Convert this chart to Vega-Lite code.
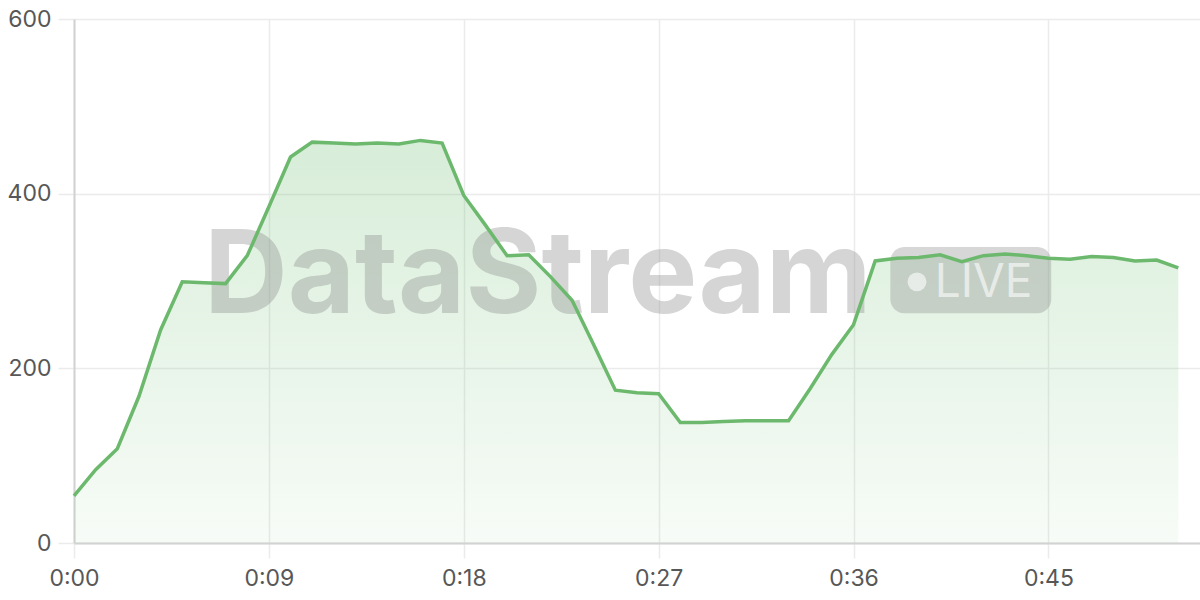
{
  "$schema": "https://vega.github.io/schema/vega-lite/v6.json",
  "width": 1126,
  "height": 524,
  "autosize": "none",
  "padding": {"left": 74, "top": 19, "right": 0, "bottom": 57},
  "background": "white",
  "config": {
    "view": {"stroke": null},
    "font": "Inter",
    "axis": {
      "labelFont": "Inter",
      "labelFontSize": 23,
      "labelColor": "#575757",
      "gridColor": "#ebebeb",
      "gridWidth": 1.5,
      "tickColor": "#ebebeb",
      "tickWidth": 1.5,
      "domainColor": "#d2d2d2",
      "domainWidth": 2,
      "title": null
    }
  },
  "data": {
    "values": [
      {"t": 0, "v": 54}, {"t": 1, "v": 84}, {"t": 2, "v": 108}, {"t": 3, "v": 168},
      {"t": 4, "v": 244}, {"t": 5, "v": 299}, {"t": 6, "v": 298}, {"t": 7, "v": 297},
      {"t": 8, "v": 329}, {"t": 9, "v": 385}, {"t": 10, "v": 442}, {"t": 11, "v": 459},
      {"t": 12, "v": 458}, {"t": 13, "v": 457}, {"t": 14, "v": 458}, {"t": 15, "v": 457},
      {"t": 16, "v": 461}, {"t": 17, "v": 458}, {"t": 18, "v": 398}, {"t": 19, "v": 364},
      {"t": 20, "v": 329}, {"t": 21, "v": 330}, {"t": 22, "v": 305}, {"t": 23, "v": 278},
      {"t": 24, "v": 227}, {"t": 25, "v": 175}, {"t": 26, "v": 172}, {"t": 27, "v": 171},
      {"t": 28, "v": 138}, {"t": 29, "v": 138}, {"t": 30, "v": 139}, {"t": 31, "v": 140},
      {"t": 32, "v": 140}, {"t": 33, "v": 140}, {"t": 34, "v": 177}, {"t": 35, "v": 216},
      {"t": 36, "v": 250}, {"t": 37, "v": 323}, {"t": 38, "v": 326}, {"t": 39, "v": 327},
      {"t": 40, "v": 330}, {"t": 41, "v": 322}, {"t": 42, "v": 329}, {"t": 43, "v": 331},
      {"t": 44, "v": 329}, {"t": 45, "v": 326}, {"t": 46, "v": 325}, {"t": 47, "v": 328},
      {"t": 48, "v": 327}, {"t": 49, "v": 323}, {"t": 50, "v": 324}, {"t": 51, "v": 315}
    ]
  },
  "layer": [
    {
      "mark": {
        "type": "area",
        "color": {
          "gradient": "linear",
          "x1": 0, "y1": 0, "x2": 0, "y2": 1,
          "stops": [
            {"offset": 0, "color": "rgba(102,187,106,0.26)"},
            {"offset": 1, "color": "rgba(102,187,106,0.05)"}
          ]
        }
      },
      "encoding": {
        "x": {
          "field": "t", "type": "quantitative",
          "scale": {"domain": [0, 52], "nice": false},
          "axis": {
            "values": [0, 9, 18, 27, 36, 45],
            "labelExpr": "'0:' + (datum.value < 10 ? '0' : '') + datum.value",
            "labelFlush": false,
            "tickSize": 15,
            "labelPadding": 9,
            "grid": true
          }
        },
        "y": {
          "field": "v", "type": "quantitative",
          "scale": {"domain": [0, 600], "nice": false},
          "axis": {
            "values": [0, 200, 400, 600],
            "tickSize": 16,
            "labelPadding": 7,
            "grid": true
          }
        }
      }
    },
    {
      "data": {"values": [{}]},
      "mark": {"type": "text", "text": "DataStream", "font": "Inter", "fontWeight": "bold", "fontSize": 116, "align": "left", "baseline": "alphabetic", "fill": "#8a8a8a", "fillOpacity": 0.36},
      "encoding": {
        "x": {"datum": 6.0, "type": "quantitative"},
        "y": {"datum": 263, "type": "quantitative"}
      }
    },
    {
      "data": {"values": [{}]},
      "mark": {"type": "rect", "fill": "#8a8a8a", "fillOpacity": 0.34, "cornerRadius": 14},
      "encoding": {
        "x": {"datum": 37.7, "type": "quantitative"},
        "x2": {"datum": 45.13},
        "y": {"datum": 339, "type": "quantitative"},
        "y2": {"datum": 263}
      }
    },
    {
      "data": {"values": [{}]},
      "mark": {"type": "circle", "fill": "white", "fillOpacity": 0.6, "size": 360},
      "encoding": {
        "x": {"datum": 38.93, "type": "quantitative"},
        "y": {"datum": 299, "type": "quantitative"}
      }
    },
    {
      "data": {"values": [{}]},
      "mark": {"type": "text", "text": "LIVE", "font": "Inter", "fontSize": 46, "align": "left", "baseline": "alphabetic", "fill": "white", "fillOpacity": 0.6},
      "encoding": {
        "x": {"datum": 39.75, "type": "quantitative"},
        "y": {"datum": 282, "type": "quantitative"}
      }
    },
    {
      "mark": {"type": "line", "color": "#6cb96e", "strokeWidth": 3.5},
      "encoding": {
        "x": {"field": "t", "type": "quantitative"},
        "y": {"field": "v", "type": "quantitative"}
      }
    }
  ]
}
